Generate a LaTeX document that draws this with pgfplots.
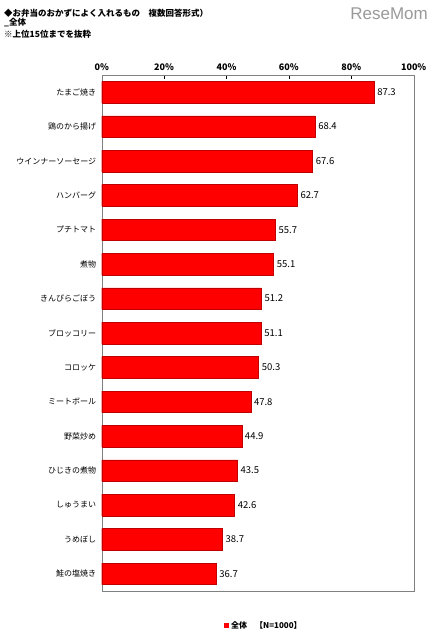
\documentclass[border=0pt]{standalone}
\usepackage{pgfplots}
\pgfplotsset{compat=1.18}
\usepackage{fontspec}
\setmainfont{Noto Sans CJK JP}
\newfontfamily\latinfont{Liberation Sans}
\definecolor{barred}{HTML}{FF0000}
\definecolor{baredge}{HTML}{C00000}
\definecolor{boxgray}{HTML}{808080}

\begin{document}
\begin{tikzpicture}[x=1pt,y=1pt]
% page frame, 433 x 640
\path (0,0) rectangle (433,640);

% title block
\node[anchor=west, font=\fontsize{8.5}{9}\selectfont\bfseries, inner sep=0] at (4,627) {◆お弁当のおかずによく入れるもの　複数回答形式）};
\node[anchor=west, font=\fontsize{8.5}{9}\selectfont\bfseries, inner sep=0] at (4,617) {\_全体};
\node[anchor=west, font=\fontsize{8.5}{9}\selectfont\bfseries, inner sep=0] at (4,606) {※上位15位までを抜粋};
\node[anchor=east, font=\latinfont\fontsize{17}{18}\selectfont, text=black!40, inner sep=0] at (428,626) {ReseMom};

\begin{axis}[
    at={(101.7pt,49pt)}, anchor=south west,
    scale only axis,
    width=312pt, height=516pt,
    xbar, bar width=21.6pt,
    xmin=0, xmax=100,
    ymin=-0.5, ymax=14.5,
    y dir=reverse,
    axis line style={boxgray},
    xtick={0,20,40,60,80,100},
    xticklabels={0\%,20\%,40\%,60\%,80\%,100\%},
    xtick pos=right, xticklabel pos=right,
    tick align=inside,
    major tick length=4pt,
    tick style={black},
    xticklabel style={font=\fontsize{9}{10}\selectfont\bfseries, yshift=1pt},
    ytick={0,...,14},
    yticklabels={たまご焼き,鶏のから揚げ,ウインナーソーセージ,ハンバーグ,プチトマト,煮物,きんぴらごぼう,ブロッコリー,コロッケ,ミートボール,野菜炒め,ひじきの煮物,しゅうまい,うめぼし,鮭の塩焼き},
    ytick style={draw=none},
    yticklabel style={font=\fontsize{8}{9}\selectfont, xshift=-2pt},
    minor ytick={0.5,1.5,...,13.5},
    minor tick length=3pt,
    ytick pos=left,
    nodes near coords,
    nodes near coords style={font=\fontsize{9.5}{10}\selectfont, anchor=west, inner sep=3pt},
    point meta=explicit symbolic,
    /pgf/number format/assume math mode=true,
    clip=false,
]
\addplot[fill=barred, draw=baredge, line width=0.4pt] coordinates {
    (87.3,0)  [87.3]
    (68.4,1)  [68.4]
    (67.6,2)  [67.6]
    (62.7,3)  [62.7]
    (55.7,4)  [55.7]
    (55.1,5)  [55.1]
    (51.2,6)  [51.2]
    (51.1,7)  [51.1]
    (50.3,8)  [50.3]
    (47.8,9)  [47.8]
    (44.9,10) [44.9]
    (43.5,11) [43.5]
    (42.6,12) [42.6]
    (38.7,13) [38.7]
    (36.7,14) [36.7]
};
\end{axis}

% legend
\fill[barred] (224,12) rectangle (229,17);
\node[anchor=west, font=\fontsize{8}{9}\selectfont\bfseries, inner sep=0] at (231,14.5) {全体　【N=1000】};
\end{tikzpicture}
\end{document}
